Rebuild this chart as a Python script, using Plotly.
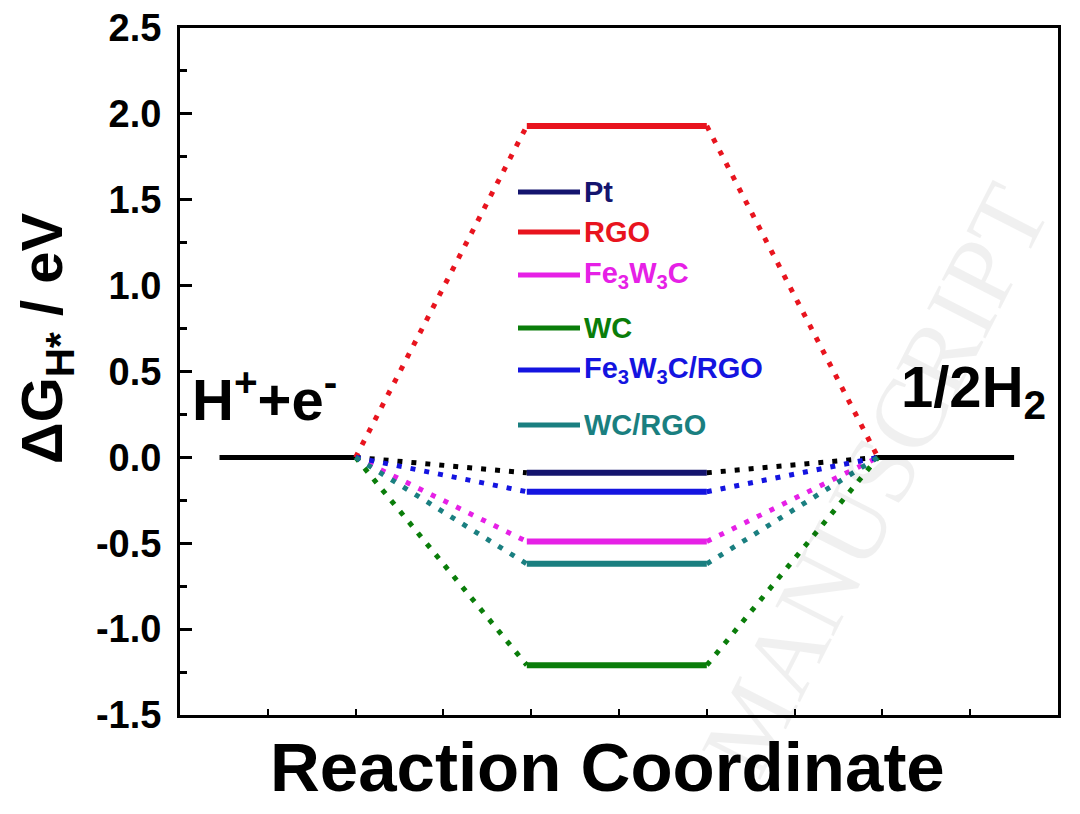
import plotly.graph_objects as go

# ---- data ----
series_names = ["Pt", "RGO", "Fe3W3C", "WC", "Fe3W3C/RGO", "WC/RGO"]
series_labels = ["Pt", "RGO", "Fe<sub>3</sub>W<sub>3</sub>C", "WC",
                 "Fe<sub>3</sub>W<sub>3</sub>C/RGO", "WC/RGO"]
delta_g = [-0.09, 1.93, -0.49, -1.21, -0.20, -0.62]
level_colors = ["#14146e", "#e8141e", "#e620e6", "#0a7d0a", "#1414e0", "#1a7f80"]
connector_colors = ["#000000", "#e8141e", "#e620e6", "#0a7d0a", "#1414e0", "#1a7f80"]

state_x = [0.45, 2.0, 3.95, 6.0, 7.95, 9.5]   # initial state, intermediate, final state edges
initial_g = 0.0
final_g = 0.0
y_ticks = [-1.5, -1.0, -0.5, 0.0, 0.5, 1.0, 1.5, 2.0, 2.5]

FONT = "Arial, Liberation Sans, Helvetica, sans-serif"

fig = go.Figure()

# initial / final state levels
fig.add_trace(go.Scatter(x=[state_x[0], state_x[1]], y=[initial_g, initial_g], mode="lines",
                         line=dict(color="black", width=5), showlegend=False, hoverinfo="skip"))
fig.add_trace(go.Scatter(x=[state_x[4], state_x[5]], y=[final_g, final_g], mode="lines",
                         line=dict(color="black", width=5), showlegend=False, hoverinfo="skip"))

# dotted connectors (drawn first so levels lie on top)
for name, g, cc in zip(series_names, delta_g, connector_colors):
    fig.add_trace(go.Scatter(
        x=[state_x[1], state_x[2], None, state_x[3], state_x[4]],
        y=[initial_g, g, None, g, final_g],
        mode="lines", line=dict(color=cc, width=5, dash="5px,9px"),
        showlegend=False, hoverinfo="skip"))

# intermediate levels
for name, g, lc in zip(series_names, delta_g, level_colors):
    fig.add_trace(go.Scatter(x=[state_x[2], state_x[3]], y=[g, g], mode="lines",
                             line=dict(color=lc, width=6), name=name, showlegend=False))

# ---- layout helpers: plot-area edges in target pixels; page body adds an 8px offset ----
OFF = 8
L, R, T, B = 180, 1058, 28, 715
W, H = R - L, B - T
def px(xp):
    return (xp - L) / W
def py(yp):
    return (B - yp) / H

# ---- custom legend ----
legend_rows = [192, 232, 275, 328, 370, 425]
for lab, lc, row in zip(series_labels, level_colors, legend_rows):
    fig.add_shape(type="line", xref="paper", yref="paper",
                  x0=px(518), x1=px(580), y0=py(row), y1=py(row),
                  line=dict(color=lc, width=5))
    fig.add_annotation(xref="paper", yref="paper", x=px(582), y=py(row),
                       text=lab, showarrow=False, xanchor="left", yanchor="middle",
                       font=dict(family=FONT, size=29, color=lc, weight="bold"))

# state labels
fig.add_annotation(xref="paper", yref="paper", x=px(190), y=py(434), text="H<sup>+</sup>+e<sup>-</sup>",
                   showarrow=False, xanchor="left", yanchor="bottom",
                   font=dict(family=FONT, size=58, color="black", weight="bold"))
fig.add_annotation(xref="paper", yref="paper", x=px(1048), y=py(430), text="1/2H<sub>2</sub>",
                   showarrow=False, xanchor="right", yanchor="bottom",
                   font=dict(family=FONT, size=58, color="black", weight="bold"))

# axis titles as annotations (placed like the reference)
fig.add_annotation(xref="paper", yref="paper", x=px(46), y=py(338), text="ΔG<sub>H*</sub> / eV",
                   showarrow=False, textangle=-90, xanchor="center", yanchor="middle",
                   font=dict(family=FONT, size=58, color="black", weight="bold"))
fig.add_annotation(xref="paper", yref="paper", x=px(607), y=py(808), text="Reaction Coordinate",
                   showarrow=False, xanchor="center", yanchor="bottom",
                   font=dict(family=FONT, size=69, color="black", weight="bold"))

# faint watermark
fig.add_annotation(xref="paper", yref="paper", x=px(875), y=py(480), text="MANUSCRIPT",
                   showarrow=False, textangle=-63, xanchor="center", yanchor="middle",
                   font=dict(family="Liberation Serif, serif", size=100, color="rgba(0,0,0,0.06)"))

axis_common = dict(showline=True, linecolor="black", linewidth=3, mirror=True,
                   showgrid=False, zeroline=False, automargin=False)

fig.update_xaxes(range=[0, 10], tickmode="linear", tick0=0, dtick=1, ticks="inside",
                 ticklen=6, tickwidth=2, tickcolor="black", showticklabels=False,
                 **axis_common)
fig.update_yaxes(range=[-1.5, 2.5], tickmode="array", tickvals=y_ticks,
                 ticktext=[f"{v:.1f}" for v in y_ticks], ticks="inside", ticklen=12,
                 tickwidth=3, tickcolor="black", ticklabelstandoff=8, ticklabeloverflow="allow",
                 minor=dict(ticks="inside", dtick=0.25, ticklen=7, tickwidth=3, tickcolor="black"),
                 tickfont=dict(family=FONT, size=38, color="black", weight="bold"),
                 **axis_common)

fig.update_layout(width=1080, height=814, paper_bgcolor="white", plot_bgcolor="white",
                  margin=dict(l=L - OFF, r=1080 - R + OFF, t=T - OFF, b=814 - B + OFF),
                  showlegend=False)

fig.write_html("out.html")
